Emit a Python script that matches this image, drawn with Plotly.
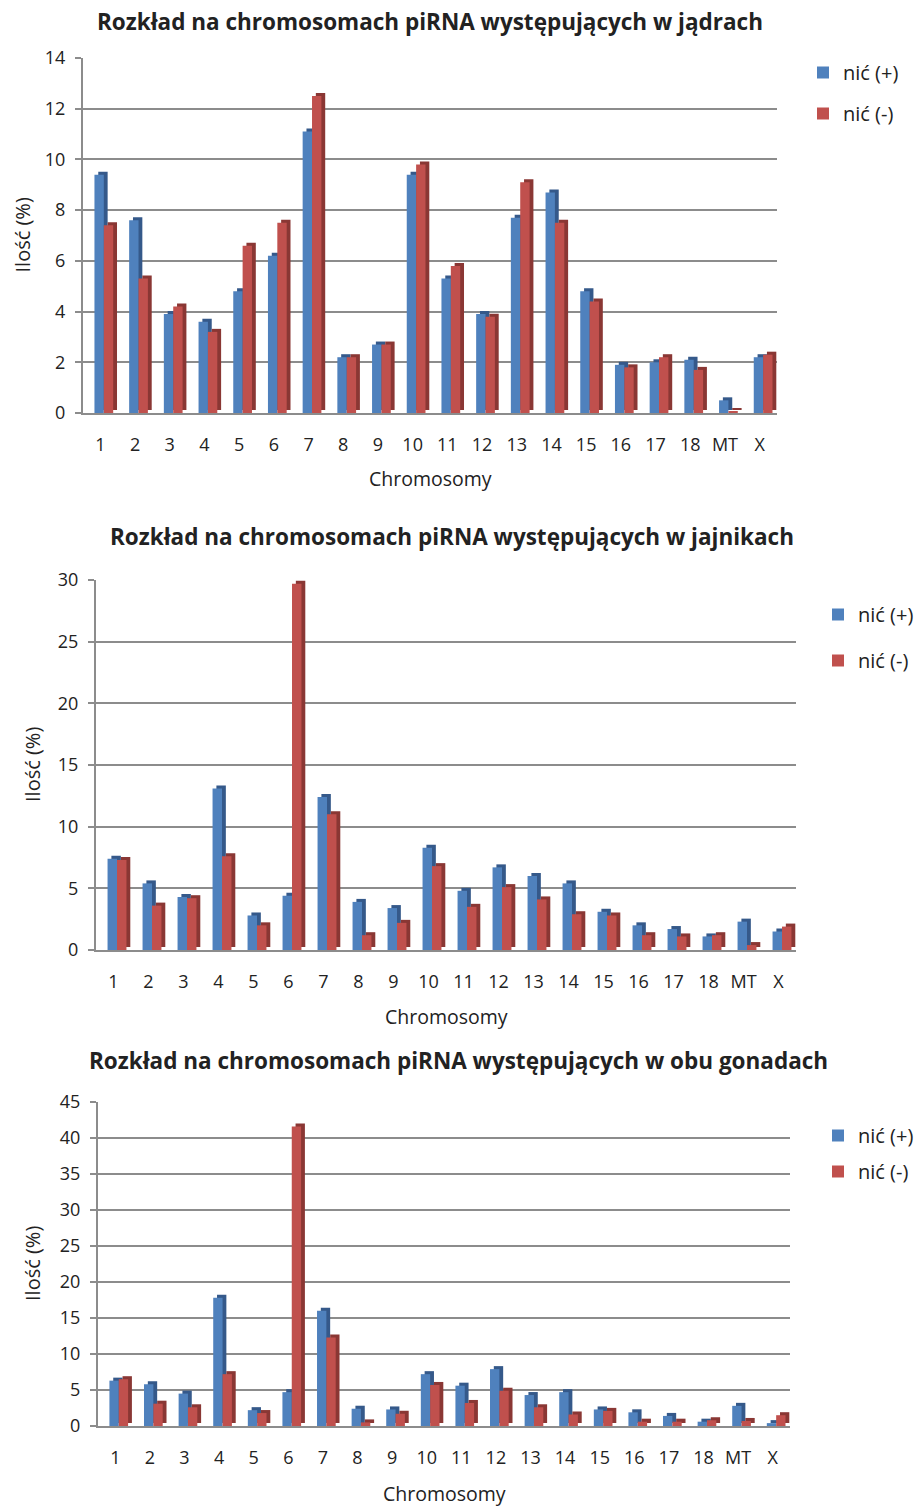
import plotly.graph_objects as go

# Chromosome categories shared by all three panels
chromosomes = [str(i) for i in range(1, 19)] + ["MT", "X"]

# Percentage of piRNA per chromosome, strand (+) and strand (-)
testes_plus = [9.4, 7.6, 3.9, 3.6, 4.8, 6.2, 11.1, 2.2, 2.7, 9.4,
               5.3, 3.9, 7.7, 8.7, 4.8, 1.9, 2.0, 2.1, 0.5, 2.2]
testes_minus = [7.4, 5.3, 4.2, 3.2, 6.6, 7.5, 12.5, 2.2, 2.7, 9.8,
                5.8, 3.8, 9.1, 7.5, 4.4, 1.8, 2.2, 1.7, 0.05, 2.3]

ovary_plus = [7.4, 5.4, 4.3, 13.1, 2.8, 4.4, 12.4, 3.9, 3.4, 8.3,
              4.8, 6.7, 6.0, 5.4, 3.1, 2.0, 1.7, 1.1, 2.3, 1.5]
ovary_minus = [7.3, 3.6, 4.2, 7.6, 2.0, 29.7, 11.0, 1.2, 2.2, 6.8,
               3.5, 5.1, 4.1, 2.9, 2.8, 1.2, 1.1, 1.2, 0.4, 1.9]

both_plus = [6.3, 5.8, 4.5, 17.8, 2.2, 4.7, 16.0, 2.4, 2.3, 7.2,
             5.6, 7.9, 4.3, 4.7, 2.3, 1.9, 1.4, 0.6, 2.8, 0.4]
both_minus = [6.5, 3.1, 2.6, 7.2, 1.8, 41.6, 12.3, 0.5, 1.7, 5.7,
              3.2, 4.9, 2.6, 1.6, 2.1, 0.6, 0.6, 0.8, 0.7, 1.5]

titles = [
    "Rozkład na chromosomach piRNA występujących w jądrach",
    "Rozkład na chromosomach piRNA występujących w jajnikach",
    "Rozkład na chromosomach piRNA występujących w obu gonadach",
]
y_max = [14, 30, 45]
y_step = [2, 5, 5]

W, H = 920, 1508
FONT = "Open Sans"
BLUE, RED = "#4F81BD", "#C0504D"
BLUE_SIDE, RED_SIDE = "#35598A", "#8A3734"
GRID = "#8C8C8C"
TEXT = "#222222"

# Pixel geometry of each panel: plot box (left, right, bottom, top) and text rows
geom = [
    dict(x0=83, x1=777, yb=413, yt=58, title_x=430, title_y=22, xt_y=478, yt_x=22,
         leg_x=803, leg_y=53, gap=12),
    dict(x0=96, x1=796, yb=950, yt=580, title_x=452, title_y=537, xt_y=1016, yt_x=32,
         leg_x=818, leg_y=595, gap=17),
    dict(x0=98, x1=790, yb=1426, yt=1102, title_x=458, title_y=1060, xt_y=1493, yt_x=32,
         leg_x=818, leg_y=1116, gap=7),
]

series = [(testes_plus, testes_minus), (ovary_plus, ovary_minus), (both_plus, both_minus)]

fig = go.Figure()
layout = dict(
    width=W, height=H, margin=dict(l=0, r=0, t=0, b=0, autoexpand=False),
    paper_bgcolor="white", plot_bgcolor="white",
    barmode="overlay", showlegend=True,
    font=dict(family=FONT, color=TEXT, size=18),
)
annotations = []

def px_x(v):
    return v / W

def px_y(v):
    return 1 - v / H

BAR_W = 0.27
OFF_PLUS, OFF_MINUS = -0.17, 0.10
DEPTH_X = 0.11

for i, ((plus, minus), g) in enumerate(zip(series, geom)):
    n = "" if i == 0 else str(i + 1)
    xa, ya = "x" + n, "y" + n
    leg = "legend" + n
    # vertical size of the 3D depth offset, in data units (about 3 px)
    depth_y = y_max[i] * 3.0 / (g["yb"] - g["yt"])

    for vals, off, face, side, name in [
        (plus, OFF_PLUS, BLUE, BLUE_SIDE, "nić (+)"),
        (minus, OFF_MINUS, RED, RED_SIDE, "nić (-)"),
    ]:
        # darker depth face behind the column
        fig.add_trace(go.Bar(
            x=chromosomes, y=vals, base=[depth_y] * len(vals),
            offset=off + DEPTH_X, width=BAR_W,
            marker=dict(color=side, line=dict(width=0)),
            xaxis=xa, yaxis=ya, showlegend=False, hoverinfo="skip",
        ))
        # front face of the column
        fig.add_trace(go.Bar(
            x=chromosomes, y=vals, offset=off, width=BAR_W, name=name,
            marker=dict(color=face, line=dict(width=0)),
            xaxis=xa, yaxis=ya, legend=leg, legendgroup=name + n,
        ))

    layout["xaxis" + n] = dict(
        domain=[px_x(g["x0"]), px_x(g["x1"])], anchor=ya,
        type="category", range=[-0.5, len(chromosomes) - 0.5],
        showgrid=False, showline=True, linecolor=GRID, linewidth=2,
        ticks="", ticklabelstandoff=14, automargin=False,
        tickfont=dict(size=18, family=FONT, color=TEXT),
        fixedrange=True,
    )
    layout["yaxis" + n] = dict(
        domain=[px_y(g["yb"]), px_y(g["yt"])], anchor=xa,
        range=[0, y_max[i]], dtick=y_step[i], tick0=0,
        showgrid=True, gridcolor=GRID, gridwidth=1.5,
        showline=True, linecolor=GRID, linewidth=2,
        ticks="outside", ticklen=6, tickcolor=GRID, tickwidth=1.5,
        ticklabelstandoff=6, automargin=False,
        tickfont=dict(size=18, family=FONT, color=TEXT),
        zeroline=False, fixedrange=True,
    )
    layout[leg] = dict(
        x=px_x(g["leg_x"]), y=px_y(g["leg_y"]), xanchor="left", yanchor="top",
        bgcolor="rgba(0,0,0,0)", font=dict(size=20, family=FONT, color=TEXT),
        traceorder="grouped", tracegroupgap=g["gap"], itemwidth=30,
    )
    annotations.append(dict(
        text="<b>" + titles[i] + "</b>", xref="paper", yref="paper",
        x=px_x(g["title_x"]), y=px_y(g["title_y"]), xanchor="center", yanchor="middle",
        showarrow=False, font=dict(size=22.5, family=FONT, color=TEXT),
    ))
    annotations.append(dict(
        text="Chromosomy", xref="paper", yref="paper",
        x=px_x((g["x0"] + g["x1"]) / 2), y=px_y(g["xt_y"]),
        xanchor="center", yanchor="middle", showarrow=False,
        font=dict(size=19.5, family=FONT, color=TEXT),
    ))
    annotations.append(dict(
        text="Ilość (%)", xref="paper", yref="paper", textangle=-90,
        x=px_x(g["yt_x"]), y=px_y((g["yb"] + g["yt"]) / 2),
        xanchor="center", yanchor="middle", showarrow=False,
        font=dict(size=20, family=FONT, color=TEXT),
    ))

layout["annotations"] = annotations
fig.update_layout(**layout)
fig.write_html("out.html")
